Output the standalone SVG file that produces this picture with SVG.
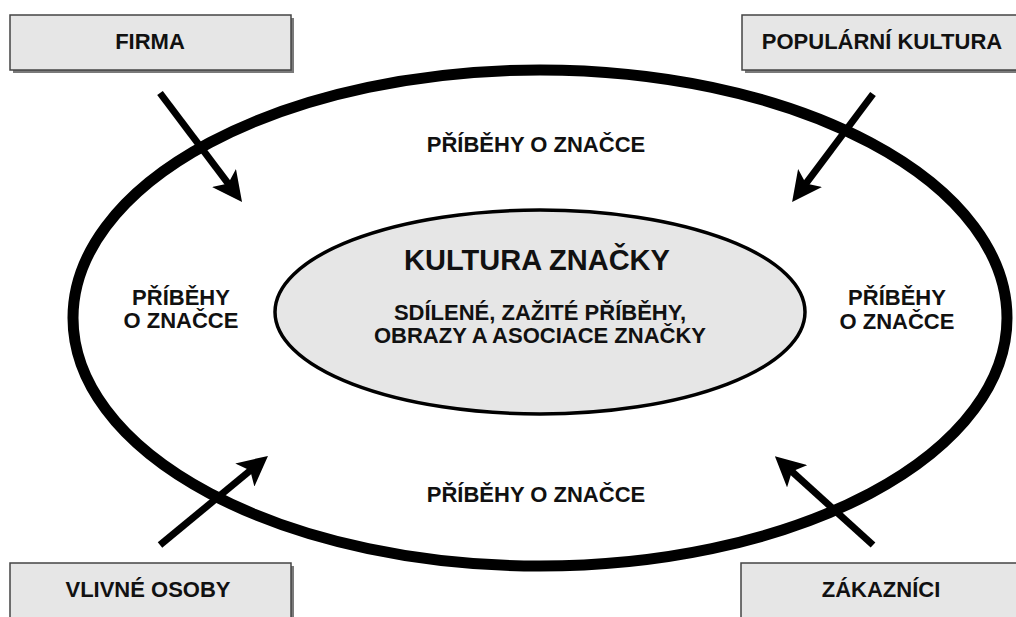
<svg xmlns="http://www.w3.org/2000/svg" width="1016" height="617" viewBox="0 0 1016 617">
<style>
.t{font-family:"Liberation Sans",Arial,sans-serif;font-weight:bold;fill:#111;text-anchor:middle}
.s{font-size:22px}
.box{fill:#e6e6e6;stroke:#444;stroke-width:1.5}
.shadow{fill:#7a7a7a}
.arrow{stroke:#000;stroke-width:7;fill:none;marker-end:url(#ah)}
</style>
<defs>
<marker id="ah" markerUnits="userSpaceOnUse" viewBox="0 -15 30 30" markerWidth="30" markerHeight="30" refX="8" refY="0" orient="auto">
<path d="M0,-15 L30,0 L0,15 L7,0 Z" fill="#000"/>
</marker>
</defs>
<rect width="1016" height="617" fill="#fff"/>
<g id="outer">
<ellipse cx="540" cy="318" rx="467" ry="248" fill="none" stroke="#000" stroke-width="11"/>
</g>
<g id="inner">
<ellipse cx="540" cy="312" rx="265" ry="102" fill="#e6e6e6" stroke="#000" stroke-width="3.5"/>
<text class="t" x="537" y="270" font-size="29">KULTURA ZNAČKY</text>
<text class="t s" x="540" y="320">SDÍLENÉ, ZAŽITÉ PŘÍBĚHY,</text>
<text class="t s" x="540" y="343">OBRAZY A ASOCIACE ZNAČKY</text>
</g>
<g id="stories">
<text class="t s" x="536" y="152">PŘÍBĚHY O ZNAČCE</text>
<text class="t s" x="536" y="502">PŘÍBĚHY O ZNAČCE</text>
<text class="t s" x="181" y="305">PŘÍBĚHY</text>
<text class="t s" x="181" y="328">O ZNAČCE</text>
<text class="t s" x="897" y="305">PŘÍBĚHY</text>
<text class="t s" x="897" y="329">O ZNAČCE</text>
</g>
<g id="firma">
<rect class="shadow" x="13" y="18" width="281" height="55"/>
<rect class="box" x="10" y="15" width="281" height="55"/>
<text class="t s" x="150" y="49">FIRMA</text>
</g>
<g id="popularni-kultura">
<rect class="shadow" x="745" y="18" width="290" height="55"/>
<rect class="box" x="742" y="15" width="290" height="55"/>
<text class="t s" x="882" y="49">POPULÁRNÍ KULTURA</text>
</g>
<g id="vlivne-osoby">
<rect class="shadow" x="13" y="566" width="281" height="60"/>
<rect class="box" x="10" y="563" width="281" height="60"/>
<text class="t s" x="148" y="597">VLIVNÉ OSOBY</text>
</g>
<g id="zakaznici">
<rect class="shadow" x="744" y="566" width="290" height="60"/>
<rect class="box" x="741" y="563" width="290" height="60"/>
<text class="t s" x="881" y="597">ZÁKAZNÍCI</text>
</g>
<g id="connectors">
<line class="arrow" x1="160" y1="93" x2="228.8" y2="184.4"/>
<line class="arrow" x1="873" y1="94" x2="805.3" y2="184.4"/>
<line class="arrow" x1="160" y1="545" x2="251" y2="469.9"/>
<line class="arrow" x1="873" y1="545" x2="791.2" y2="470.9"/>
</g>
</svg>
